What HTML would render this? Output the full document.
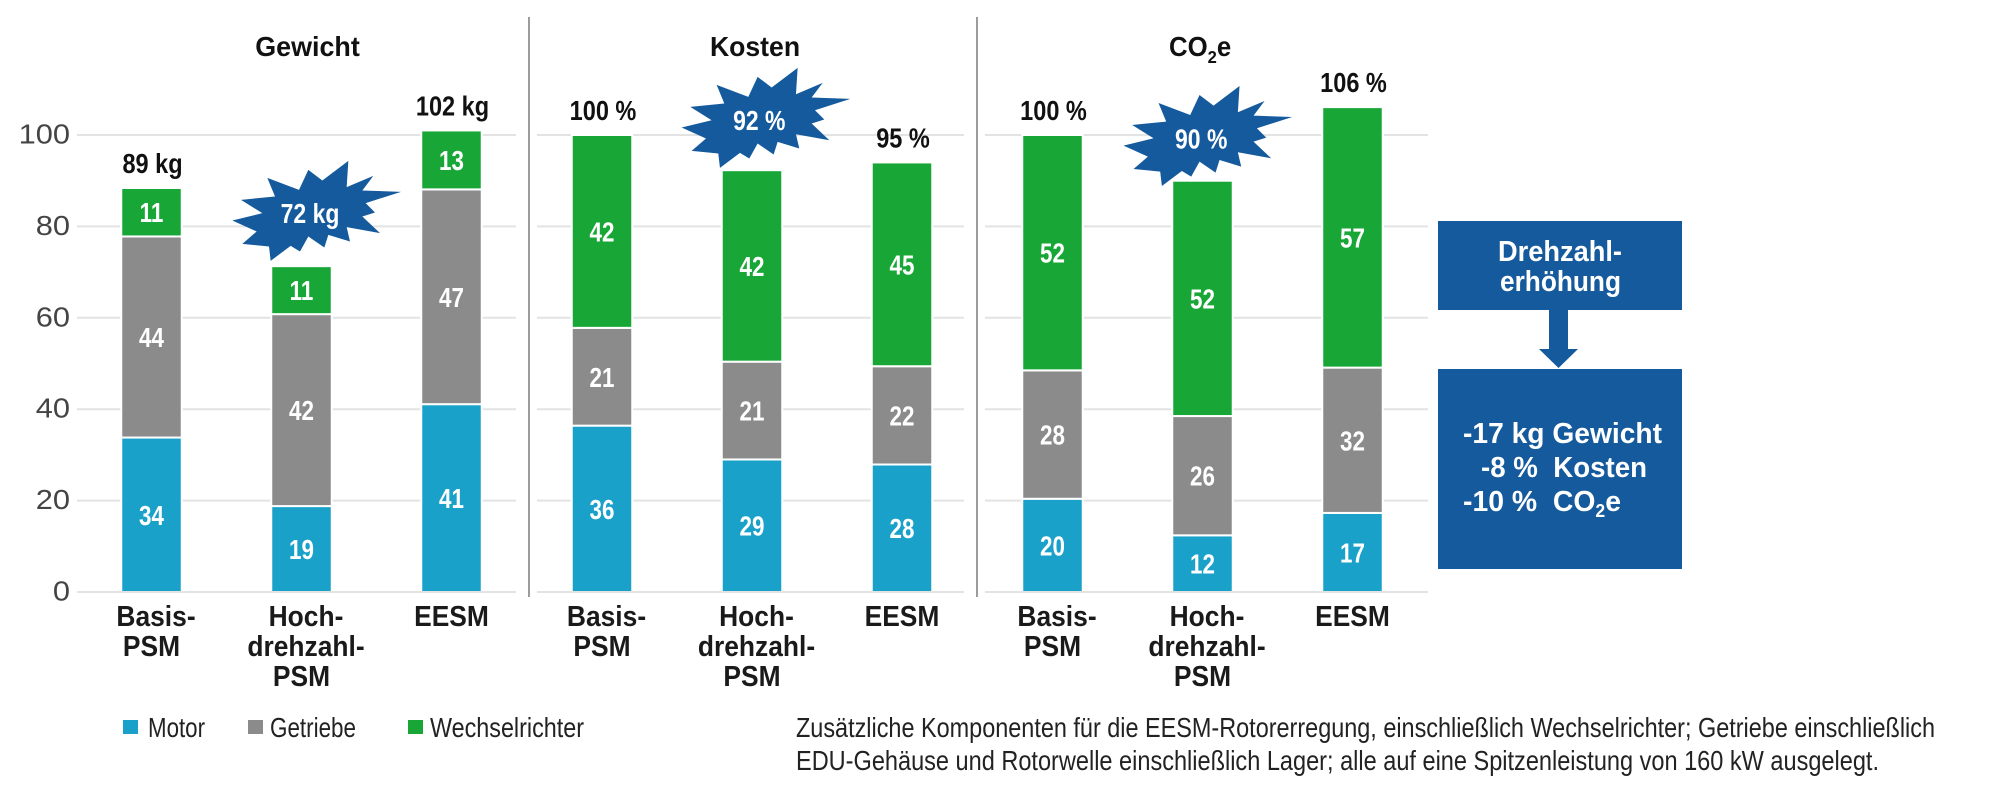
<!DOCTYPE html>
<html lang="de">
<head>
<meta charset="utf-8">
<title>Gewicht, Kosten und CO2e</title>
<style>
html,body{margin:0;padding:0;background:#fff;}
svg{display:block;font-family:"Liberation Sans",Arial,sans-serif;}
text{white-space:pre;}
</style>
</head>
<body>
<svg id="chart" xmlns="http://www.w3.org/2000/svg" width="1996" height="791" viewBox="0 0 1996 791">
  <rect x="0" y="0" width="1996" height="791" fill="#ffffff"/>
  <g id="grid"></g>
  <line x1="529" y1="17" x2="529" y2="597" stroke="#9c9c9c" stroke-width="2"/>
  <line x1="977" y1="17" x2="977" y2="597" stroke="#9c9c9c" stroke-width="2"/>
  <g id="ticks"></g>
  <g id="marks"></g>
  <g id="baseline"></g>

  <g>
    <rect x="123" y="720" width="15" height="14" fill="#1aa1c9"/>
    <text x="148" y="737" font-size="28" fill="#222" textLength="57" lengthAdjust="spacingAndGlyphs">Motor</text>
    <rect x="248" y="720" width="15" height="14" fill="#8b8b8b"/>
    <text x="270" y="737" font-size="28" fill="#222" textLength="86" lengthAdjust="spacingAndGlyphs">Getriebe</text>
    <rect x="408" y="720" width="15" height="14" fill="#18a637"/>
    <text x="430" y="737" font-size="28" fill="#222" textLength="154" lengthAdjust="spacingAndGlyphs">Wechselrichter</text>
  </g>

  <g>
    <text x="796" y="737" font-size="28" fill="#222" textLength="1139" lengthAdjust="spacingAndGlyphs">Zusätzliche Komponenten für die EESM-Rotorerregung, einschließlich Wechselrichter; Getriebe einschließlich</text>
    <text x="796" y="770" font-size="28" fill="#222" textLength="1083" lengthAdjust="spacingAndGlyphs">EDU-Gehäuse und Rotorwelle einschließlich Lager; alle auf eine Spitzenleistung von 160 kW ausgelegt.</text>
  </g>

  <g>
    <rect x="1438" y="221" width="244" height="89" fill="#155a9c"/>
    <text x="1498" y="261" font-size="29" font-weight="bold" fill="#fff" textLength="124" lengthAdjust="spacingAndGlyphs">Drehzahl-</text>
    <text x="1500" y="291" font-size="29" font-weight="bold" fill="#fff" textLength="121" lengthAdjust="spacingAndGlyphs">erhöhung</text>
    <polygon points="1549,310 1568,310 1568,349 1578,349 1558.5,368 1539,349 1549,349" fill="#155a9c"/>
    <rect x="1438" y="369" width="244" height="200" fill="#155a9c"/>
    <text x="1463" y="443" font-size="29" font-weight="bold" fill="#fff" textLength="199" lengthAdjust="spacingAndGlyphs">-17 kg Gewicht</text>
    <text x="1481" y="477" font-size="29" font-weight="bold" fill="#fff" textLength="166" lengthAdjust="spacingAndGlyphs">-8 %  Kosten</text>
    <text x="1463" y="511" font-size="29" font-weight="bold" fill="#fff" textLength="158" lengthAdjust="spacingAndGlyphs">-10 %  CO<tspan font-size="18" dy="6">2</tspan><tspan dy="-6">e</tspan></text>
  </g>
</svg>

<script>
const yTicks = [0, 20, 40, 60, 80, 100];
const panelNames = ["gewicht", "kosten", "co2e"];
const categories = [["Basis-", "PSM"], ["Hoch-", "drehzahl-", "PSM"], ["EESM"]];
const categoryNames = ["basis-psm", "hochdrehzahl-psm", "eesm"];

const weightMotor = [33.8, 18.8, 41.1];
const weightGetriebe = [44.0, 42.0, 47.0];
const weightWechselrichter = [10.6, 10.5, 12.9];
const weightTotals = ["89 kg", "72 kg", "102 kg"];

const costMotor = [36.4, 29.0, 27.9];
const costGetriebe = [21.4, 21.4, 21.5];
const costWechselrichter = [42.2, 41.9, 44.6];
const costTotals = ["100 %", "92 %", "95 %"];

const co2Motor = [20.4, 12.4, 17.3];
const co2Getriebe = [28.1, 26.1, 31.8];
const co2Wechselrichter = [51.5, 51.5, 57.0];
const co2Totals = ["100 %", "90 %", "106 %"];

const NS = "http://www.w3.org/2000/svg";
const BAR_W = 58.5;
const COLORS = { motor: "#1aa1c9", getriebe: "#8b8b8b", wechselrichter: "#18a637" };
const GRID_SPANS = [[77, 516], [537, 964], [985, 1428]];
const BURST_ANCHORS = [{ dx: 8.5, dy: -53 }, { dx: 7.3, dy: -50 }, { dx: -1.3, dy: -42.4 }];
const BURST_OUTLINE = "115,-157 110,-78 190,-112 157,-68 273,-64 167,-30 195,-2 157,10 210,60 110,42 120,85 55,65 43,103 -5,70 -30,115 -58,98 -118,143 -123,100 -203,92 -160,55 -233,22 -143,0 -207,-40 -105,-50 -128,-106 -33,-70 -5,-130 37,-98";

function yScale(v) { return 592 - v * 4.57; }
function xScale(panel, index) { return 151.5 + 450.5 * panel + 150 * index; }

function node(parent, tag, attrs) {
  const el = document.createElementNS(NS, tag);
  for (const k in attrs) el.setAttribute(k, attrs[k]);
  parent.appendChild(el);
  return el;
}
function label(parent, str, x, y, sx, size, weight, fill, anchor) {
  const el = node(parent, "text", {
    transform: "translate(" + x + " " + y + ") scale(" + sx + " 1)",
    "font-size": size, "font-weight": weight, fill: fill, "text-anchor": anchor
  });
  el.textContent = str;
  return el;
}

const gridGroup = document.getElementById("grid");
const tickGroup = document.getElementById("ticks");
const marks = document.getElementById("marks");
const baselineGroup = document.getElementById("baseline");

yTicks.forEach(function (t) {
  GRID_SPANS.forEach(function (span, p) {
    const host = t === 0 ? baselineGroup : gridGroup;
    const line = node(host, "line", { x1: span[0], x2: span[1], y1: yScale(t), y2: yScale(t), stroke: "#e3e3e3", "stroke-width": 2 });
    
    
  });
  const tick = label(tickGroup, String(t), 70, yScale(t) + 8.5, 1.1, 28, "normal", "#444444", "end");
  
  
});

const titleCenters = [307.5, 755, 1201];
const titleG = label(marks, "Gewicht", titleCenters[0], 56, 0.96, 28, "bold", "#111", "middle");


const titleK = label(marks, "Kosten", titleCenters[1], 56, 0.95, 28, "bold", "#111", "middle");


const titleC = label(marks, "CO", titleCenters[2] - 32, 56, 0.92, 28, "bold", "#111", "start");


const sub = node(titleC, "tspan", { "font-size": 18, dy: 7 });
sub.textContent = "2";
const subE = node(titleC, "tspan", { dy: -7 });
subE.textContent = "e";

const panels = [
  { motor: weightMotor, getriebe: weightGetriebe, wechselrichter: weightWechselrichter, totals: weightTotals },
  { motor: costMotor, getriebe: costGetriebe, wechselrichter: costWechselrichter, totals: costTotals },
  { motor: co2Motor, getriebe: co2Getriebe, wechselrichter: co2Wechselrichter, totals: co2Totals }
];

panels.forEach(function (panel, p) {
  categories.forEach(function (lines, i) {
    const cx = xScale(p, i);
    const base = panelNames[p] + '-' + categoryNames[i];
    let running = 0;
    ["motor", "getriebe", "wechselrichter"].forEach(function (key) {
      const v = panel[key][i];
      const top = yScale(running + v);
      const bottom = yScale(running);
      const bar = node(marks, "rect", {
        x: cx - BAR_W / 2 - 1, y: top, width: BAR_W + 2, height: bottom - top,
        fill: COLORS[key], stroke: "#ffffff", "stroke-width": 2
      });
      
      
      const val = label(marks, String(Math.round(v)), cx, (top + bottom) / 2 + 10, 0.8, 28, "bold", "#ffffff", "middle");
      
      
      running += v;
    });

    const topY = yScale(running);
    if (i === 1) {
      const a = BURST_ANCHORS[p];
      const bx = cx + a.dx;
      const by = topY + a.dy;
      const burst = node(marks, "polygon", {
        points: BURST_OUTLINE.split(" ").map(function (pair) {
          const c = pair.split(",");
          return (bx + c[0] / 3) + "," + (by + c[1] / 3);
        }).join(" "),
        fill: "#155a9c"
      });
      
      
      const bt = label(marks, panel.totals[i], bx, by + 10, 0.82, 28, "bold", "#ffffff", "middle");
      
      
    } else {
      const tl = label(marks, panel.totals[i], cx + 1, topY - 15, 0.84, 28, "bold", "#111111", "middle");
      
      
    }

    lines.forEach(function (line, n) {
      const shift = line.slice(-1) === "-" ? 4.5 : 0;
      const cat = label(marks, line, cx + shift, 626 + n * 30, 0.91, 29, "bold", "#1a1a1a", "middle");
      
      
    });
  });
});
</script>
</body>
</html>
